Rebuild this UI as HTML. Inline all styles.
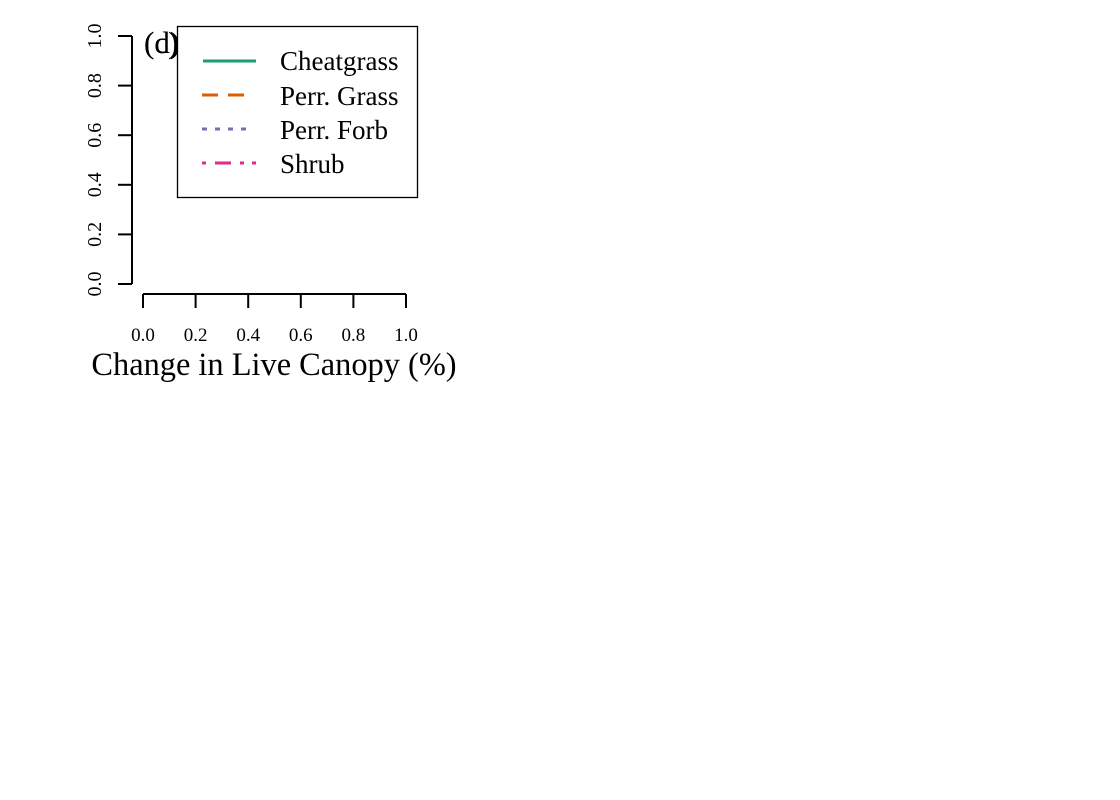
<!DOCTYPE html>
<html><head><meta charset="utf-8"><style>
html,body{margin:0;padding:0;background:#fff;}
svg{display:block;font-family:"Liberation Serif",serif;}
</style></head><body>
<svg id="chart" width="1120" height="800" viewBox="0 0 1120 800">
<g id="yaxis"></g>
<g id="xaxis"></g>
<text x="274" y="375" font-size="32.4" text-anchor="middle">Change in Live Canopy (%)</text>
<text x="144" y="53" font-size="31">(c)</text>
<text x="144" y="53" font-size="31">(d)</text>
<g>
<rect x="177.5" y="26.5" width="240" height="171" fill="#fff" stroke="#000" stroke-width="1.3"/>
<g>
<line x1="203" y1="61" x2="256" y2="61" stroke="#1b9e77" stroke-width="3"/>
<text x="280" y="70" font-size="27">Cheatgrass</text></g>
<g>
<line x1="202" y1="95" x2="246" y2="95" stroke="#d95f02" stroke-width="3" stroke-dasharray="16 10"/>
<text x="280" y="105" font-size="27">Perr. Grass</text></g>
<g>
<line x1="202" y1="129" x2="248" y2="129" stroke="#7570b3" stroke-width="3" stroke-dasharray="5 8"/>
<text x="280" y="139" font-size="27">Perr. Forb</text></g>
<g>
<line x1="202" y1="163" x2="257" y2="163" stroke="#e7298a" stroke-width="3" stroke-dasharray="4 9 16 9 4 8 4 100"/>
<text x="280" y="173" font-size="27">Shrub</text></g>
</g>
</svg>
<script>
const yTicks=[0,0.2,0.4,0.6,0.8,1.0];
const xTicks=[0,0.2,0.4,0.6,0.8,1.0];
const yTickLabels=["0.0","0.2","0.4","0.6","0.8","1.0"];
const xTickLabels=["0.0","0.2","0.4","0.6","0.8","1.0"];
const NS="http://www.w3.org/2000/svg";
function ys(v){return 284-v*248;}
function xs(v){return 143+v*263;}
function mk(t,a,p){const e=document.createElementNS(NS,t);for(const k in a)e.setAttribute(k,a[k]);p.appendChild(e);return e;}
const ya=document.getElementById('yaxis'),xa=document.getElementById('xaxis');
const yl=mk('line',{x1:132,x2:132,y1:ys(0),y2:ys(1),stroke:'#000','stroke-width':2},ya);


yTicks.forEach((v,i)=>{
 const t=mk('line',{x1:118,x2:132,y1:ys(v),y2:ys(v),stroke:'#000','stroke-width':2},ya);
 
 
 const l=mk('text',{x:0,y:0,'font-size':20,'text-anchor':'middle',transform:`translate(101,${ys(v)}) rotate(-90)`},ya);
 l.textContent=yTickLabels[i];
 
 
});
const xl=mk('line',{x1:xs(0),x2:xs(1),y1:294,y2:294,stroke:'#000','stroke-width':2},xa);


xTicks.forEach((v,i)=>{
 const t=mk('line',{x1:xs(v),x2:xs(v),y1:294,y2:308,stroke:'#000','stroke-width':2},xa);
 
 
 const l=mk('text',{x:xs(v),y:341,'font-size':19,'text-anchor':'middle'},xa);
 l.textContent=xTickLabels[i];
 
 
});
</script>
</body></html>
